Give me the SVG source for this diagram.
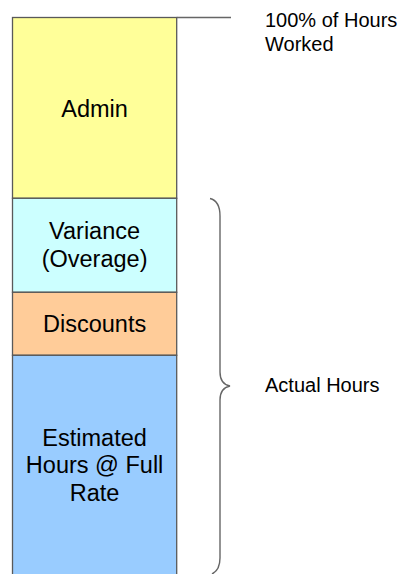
<svg xmlns="http://www.w3.org/2000/svg" width="402" height="574" viewBox="0 0 402 574">
<style>
.box{stroke:#595959;stroke-width:1.3}
.lbl{font-family:"Liberation Sans",Arial,sans-serif;font-size:23.5px;fill:#000;text-anchor:middle}
.side{font-family:"Liberation Sans",Arial,sans-serif;font-size:20px;fill:#000}
.conn{fill:none;stroke:#666;stroke-width:1.4}
</style>
<rect width="402" height="574" fill="#fff"/>
<g id="admin"><rect class="box" x="12.5" y="17.5" width="164.2" height="180.8" fill="#FFFF99"/><text class="lbl" x="94.6" y="117">Admin</text></g>
<g id="variance"><rect class="box" x="12.5" y="198.3" width="164.2" height="94" fill="#CCFFFF"/><text class="lbl" x="94.6" y="238.5">Variance</text><text class="lbl" x="94.6" y="266.5">(Overage)</text></g>
<g id="discounts"><rect class="box" x="12.5" y="292.3" width="164.2" height="63" fill="#FFCC99"/><text class="lbl" x="94.6" y="331.5">Discounts</text></g>
<g id="estimated"><rect class="box" x="12.5" y="355.3" width="164.2" height="230" fill="#99CCFF"/><text class="lbl" x="94.6" y="445.5">Estimated</text><text class="lbl" x="94.6" y="473">Hours @ Full</text><text class="lbl" x="94.6" y="500.5">Rate</text></g>
<g id="connectors">
<path class="conn" d="M176.7,17.5 H231"/>
<path class="conn" d="M210,198.5 Q220,201 220,216 L220,372 Q220,384 230,386 Q220,388 220,400 L220,558 Q220,570 212,574"/>
</g>
<g id="label-total"><text class="side" x="265" y="26.7">100% of Hours</text><text class="side" x="265" y="50.5">Worked</text></g>
<g id="label-actual"><text class="side" x="265" y="392">Actual Hours</text></g>
</svg>
